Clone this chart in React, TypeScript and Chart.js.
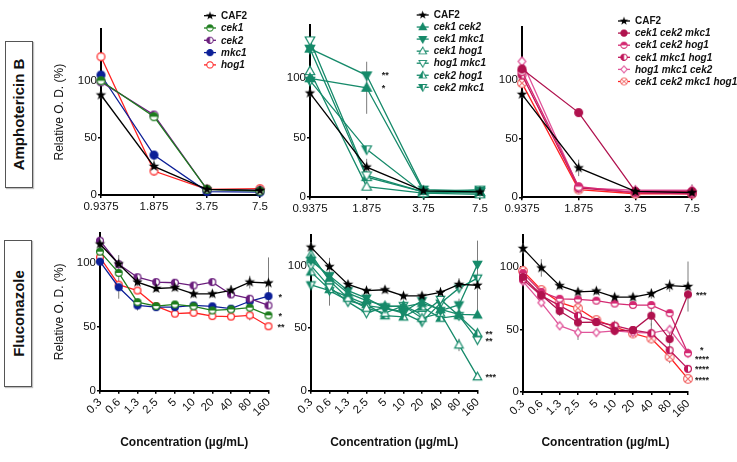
import React, { useEffect, useRef } from 'react';
import { Chart, registerables } from 'chart.js';
Chart.register(...registerables);

const FONT = '"Liberation Sans", Arial, Helvetica, sans-serif';

// ---------- categories / ticks ----------
const ampDoses = ['0.9375', '1.875', '3.75', '7.5'];
const fluDoses = ['0.3', '0.6', '1.3', '2.5', '5', '10', '20', '40', '80', '160'];
const yTicks = [0, 50, 100];

// ---------- Amphotericin B ----------
const ampCAF2 = [87.5, 25, 5, 4];
const ampCAF2Err = [3, 7, 2, 2];
const ampCek1 = [100, 68.5, 5, 3.5];
const ampCek2 = [99, 70, 5, 4];
const ampMkc1 = [105, 35, 3, 2.5];
const ampHog1 = [121, 21, 5, 5.5];
const ampHog1Err = [0, 4, 0, 0];

const ampCek1Cek2 = [100, 92, 5, 4];
const ampCek1Cek2Err = [0, 22, 0, 0];
const ampCek1Mkc1 = [125, 102.5, 6, 5];
const ampCek1Hog1 = [106, 8.5, 3, 2];
const ampHog1Mkc1 = [132, 18, 4, 6];
const ampCek2Hog1 = [125, 16.5, 4, 3];
const ampCek2Mkc1 = [98, 40, 3, 4];

const ampC1C2M1 = [109, 72, 5, 5];
const ampC1C2H1 = [107, 9, 4, 4];
const ampC1M1H1 = [104, 8, 4, 3];
const ampH1M1C2 = [115.5, 8, 6, 6];
const ampH1M1C2Err = [0, 0, 4, 5];
const ampQuad = [97, 6.6, 3, 3];

// ---------- Fluconazole ----------
const fluCAF2 = [114.8, 99.2, 85, 80, 80.7, 75.8, 75.8, 78.6, 85, 84.3];
const fluCAF2Err = [4, 7, 3, 3, 3, 3, 3, 4, 5, 20];
const fluCek1 = [108.8, 92.2, 69.3, 66.2, 67.5, 66, 62.8, 63.6, 65, 59];
const fluCek2 = [117.4, 99, 88.8, 85, 84.5, 82.3, 85, 75.3, 72, 66.7];
const fluMkc1 = [101, 81, 66.7, 65.4, 65.4, 66.7, 66, 64.2, 70, 74];
const fluMkc1Err = [0, 9, 4, 0, 0, 0, 0, 0, 3, 0];
const fluHog1 = [104.4, 83, 78.4, 66.2, 60.3, 61, 58.4, 58, 59, 50.4];
const fluHog1Err = [0, 0, 0, 0, 0, 0, 0, 0, 4, 0];

const fluCek1Cek2 = [106, 90, 78, 72, 68, 67, 70, 65, 61, 60.6];
const fluCek1Mkc1 = [104, 92, 80, 74, 66, 63, 72, 64, 68.6, 101];
const fluCek1Mkc1Err = [0, 0, 0, 0, 0, 0, 0, 0, 5, 0];
const fluCek1Hog1 = [109, 88, 74, 66, 62, 68, 58, 62, 36.6, 11.2];
const fluCek1Hog1Err = [0, 0, 0, 0, 0, 0, 5, 0, 5, 0];
const fluHog1Mkc1 = [100, 83, 71, 62, 67, 68, 61, 73, 60, 40.6];
const fluCek2Hog1 = [95, 81, 75, 69, 60, 59, 67, 58, 60, 46];
const fluCek2Mkc1 = [84.6, 80, 72, 68, 66, 62, 55, 70, 82, 90];
const fluCek2Mkc1Err = [0, 12, 0, 0, 0, 0, 0, 0, 0, 30];

const fluC1C2M1 = [92, 77.5, 64.7, 55.6, 55.9, 49, 49.5, 61, 42.3, 78];
const fluC1C2M1Err = [0, 0, 4, 0, 0, 0, 0, 8, 8, 0];
const fluC1C2H1 = [95, 80, 74.5, 74, 73, 70.7, 69.5, 69.5, 63, 31];
const fluC1M1H1 = [90, 77, 69, 61, 56, 53, 49.5, 47, 33.4, 18.5];
const fluC1M1H1Err = [0, 0, 0, 0, 0, 0, 0, 8, 0, 0];
const fluH1M1C2 = [88.4, 71.4, 53, 47.6, 47.6, 48.9, 47.6, 47, 50, 31];
const fluH1M1C2Err = [0, 0, 0, 6, 0, 0, 0, 0, 0, 0];
const fluQuad = [96.8, 81.5, 71.7, 66.9, 57.5, 52.1, 46.8, 42.8, 28, 10.5];
const fluQuadErr = [0, 0, 0, 0, 0, 5, 0, 0, 5, 0];

// ---------- styles ----------
const BLACK = '#000000';
const GREEN = '#1d7d1d';
const PURPLE = '#6a1d7c';
const NAVY = '#0c1f97';
const RED = '#ff2222';
const TEAL = '#168a6a';
const CRIMSON = '#b0124e';
const PINK = '#d42a72';
const MAGENTA = '#c0155a';
const ROSE = '#e0559a';
const SALMON = '#f26a6a';

type MK = 'star' | 'circle' | 'circleOpen' | 'circleTop' | 'circleLeft' | 'circleX' |
  'triUp' | 'triDown' | 'triUpOpen' | 'triDownOpen' | 'triUpHalf' | 'triDownHalf' | 'diamondOpen';

interface Series { label: string; data: number[]; err?: number[]; color: string; mk: MK; mkColor?: string; size?: number; }
interface Mark { s: number; i: number; text: string; dx: number; dy: number; }
interface Panel {
  cl: number; ct: number; cw: number; ch: number;
  left: number; right: number; top: number; bottom: number;
  yMax: number; labels: string[]; series: Series[];
  yTitle: boolean; xTitle: boolean; rot: number; size: number;
  legend?: { x: number; y: number; gap: number };
  marks: Mark[];
}

function makeMarker(kind: MK, color: string, size: number): HTMLCanvasElement {
  const s = Math.ceil(size) + 4;
  const c = document.createElement('canvas');
  c.width = s; c.height = s;
  const ctx = c.getContext('2d')!;
  const cx = s / 2, cy = s / 2, r = size / 2;
  ctx.lineWidth = 1.2;
  ctx.strokeStyle = color;
  ctx.fillStyle = color;
  const circ = () => { ctx.beginPath(); ctx.arc(cx, cy, r - 0.6, 0, Math.PI * 2); };
  const tri = (up: boolean) => {
    ctx.beginPath();
    if (up) { ctx.moveTo(cx, cy - r); ctx.lineTo(cx + r * 0.95, cy + r * 0.7); ctx.lineTo(cx - r * 0.95, cy + r * 0.7); }
    else { ctx.moveTo(cx, cy + r); ctx.lineTo(cx + r * 0.95, cy - r * 0.7); ctx.lineTo(cx - r * 0.95, cy - r * 0.7); }
    ctx.closePath();
  };
  const white = () => { ctx.fillStyle = '#fff'; ctx.fill(); ctx.fillStyle = color; };
  switch (kind) {
    case 'star': {
      ctx.beginPath();
      for (let k = 0; k < 10; k++) {
        const rr = k % 2 === 0 ? r : r * 0.42;
        const a = -Math.PI / 2 + (k * Math.PI) / 5;
        const px = cx + rr * Math.cos(a), py = cy + rr * Math.sin(a);
        if (k === 0) ctx.moveTo(px, py); else ctx.lineTo(px, py);
      }
      ctx.closePath(); ctx.fill();
      break;
    }
    case 'circle': circ(); ctx.fill(); ctx.stroke(); break;
    case 'circleOpen': circ(); white(); ctx.stroke(); break;
    case 'circleTop':
      circ(); white();
      ctx.beginPath(); ctx.arc(cx, cy, r - 0.6, Math.PI, Math.PI * 2); ctx.closePath(); ctx.fill();
      circ(); ctx.stroke(); break;
    case 'circleLeft':
      circ(); white();
      ctx.beginPath(); ctx.arc(cx, cy, r - 0.6, Math.PI / 2, Math.PI * 1.5); ctx.closePath(); ctx.fill();
      circ(); ctx.stroke(); break;
    case 'circleX': {
      circ(); white(); ctx.stroke();
      const d = (r - 0.6) * 0.707;
      ctx.beginPath(); ctx.moveTo(cx - d, cy - d); ctx.lineTo(cx + d, cy + d);
      ctx.moveTo(cx + d, cy - d); ctx.lineTo(cx - d, cy + d); ctx.stroke();
      break;
    }
    case 'triUp': tri(true); ctx.fill(); ctx.stroke(); break;
    case 'triDown': tri(false); ctx.fill(); ctx.stroke(); break;
    case 'triUpOpen': tri(true); white(); ctx.stroke(); break;
    case 'triDownOpen': tri(false); white(); ctx.stroke(); break;
    case 'triUpHalf':
    case 'triDownHalf': {
      const up = kind === 'triUpHalf';
      tri(up); white();
      ctx.save(); tri(up); ctx.clip(); ctx.fillRect(0, 0, cx, s); ctx.restore();
      tri(up); ctx.stroke();
      break;
    }
    case 'diamondOpen':
      ctx.beginPath(); ctx.moveTo(cx, cy - r); ctx.lineTo(cx + r * 0.85, cy); ctx.lineTo(cx, cy + r); ctx.lineTo(cx - r * 0.85, cy); ctx.closePath();
      white(); ctx.stroke(); break;
  }
  return c;
}

// ---------- series lists ----------
const ampSingles: Series[] = [
  { label: 'CAF2', data: ampCAF2, err: ampCAF2Err, color: BLACK, mk: 'star', size: 11 },
  { label: 'cek1', data: ampCek1, color: GREEN, mk: 'circleTop' },
  { label: 'cek2', data: ampCek2, color: PURPLE, mk: 'circleLeft' },
  { label: 'mkc1', data: ampMkc1, color: NAVY, mk: 'circle' },
  { label: 'hog1', data: ampHog1, err: ampHog1Err, color: RED, mk: 'circleOpen' },
];
const ampDoubles: Series[] = [
  { label: 'CAF2', data: ampCAF2, err: ampCAF2Err, color: BLACK, mk: 'star', size: 11 },
  { label: 'cek1 cek2', data: ampCek1Cek2, err: ampCek1Cek2Err, color: TEAL, mk: 'triUp' },
  { label: 'cek1 mkc1', data: ampCek1Mkc1, color: TEAL, mk: 'triDown' },
  { label: 'cek1 hog1', data: ampCek1Hog1, color: TEAL, mk: 'triUpOpen' },
  { label: 'hog1 mkc1', data: ampHog1Mkc1, color: TEAL, mk: 'triDownOpen' },
  { label: 'cek2 hog1', data: ampCek2Hog1, color: TEAL, mk: 'triUpHalf' },
  { label: 'cek2 mkc1', data: ampCek2Mkc1, color: TEAL, mk: 'triDownHalf' },
];
const ampTriples: Series[] = [
  { label: 'CAF2', data: ampCAF2, err: ampCAF2Err, color: BLACK, mk: 'star', size: 11 },
  { label: 'cek1 cek2 mkc1', data: ampC1C2M1, color: CRIMSON, mk: 'circle' },
  { label: 'cek1 cek2 hog1', data: ampC1C2H1, color: PINK, mk: 'circleTop' },
  { label: 'cek1 mkc1 hog1', data: ampC1M1H1, color: MAGENTA, mk: 'circleLeft' },
  { label: 'hog1 mkc1 cek2', data: ampH1M1C2, err: ampH1M1C2Err, color: ROSE, mk: 'diamondOpen' },
  { label: 'cek1 cek2 mkc1 hog1', data: ampQuad, color: RED, mk: 'circleX', mkColor: SALMON, size: 10 },
];
const fluSingles: Series[] = [
  { label: 'CAF2', data: fluCAF2, err: fluCAF2Err, color: BLACK, mk: 'star', size: 11 },
  { label: 'cek1', data: fluCek1, color: GREEN, mk: 'circleTop' },
  { label: 'cek2', data: fluCek2, color: PURPLE, mk: 'circleLeft' },
  { label: 'mkc1', data: fluMkc1, err: fluMkc1Err, color: NAVY, mk: 'circle' },
  { label: 'hog1', data: fluHog1, err: fluHog1Err, color: RED, mk: 'circleOpen' },
];
const fluDoubles: Series[] = [
  { label: 'CAF2', data: fluCAF2, err: fluCAF2Err, color: BLACK, mk: 'star', size: 11 },
  { label: 'cek1 cek2', data: fluCek1Cek2, color: TEAL, mk: 'triUp' },
  { label: 'cek1 mkc1', data: fluCek1Mkc1, err: fluCek1Mkc1Err, color: TEAL, mk: 'triDown' },
  { label: 'cek1 hog1', data: fluCek1Hog1, err: fluCek1Hog1Err, color: TEAL, mk: 'triUpOpen' },
  { label: 'hog1 mkc1', data: fluHog1Mkc1, color: TEAL, mk: 'triDownOpen' },
  { label: 'cek2 hog1', data: fluCek2Hog1, color: TEAL, mk: 'triUpHalf' },
  { label: 'cek2 mkc1', data: fluCek2Mkc1, err: fluCek2Mkc1Err, color: TEAL, mk: 'triDownHalf' },
];
const fluTriples: Series[] = [
  { label: 'CAF2', data: fluCAF2, err: fluCAF2Err, color: BLACK, mk: 'star', size: 11 },
  { label: 'cek1 cek2 mkc1', data: fluC1C2M1, err: fluC1C2M1Err, color: CRIMSON, mk: 'circle' },
  { label: 'cek1 cek2 hog1', data: fluC1C2H1, color: PINK, mk: 'circleTop' },
  { label: 'cek1 mkc1 hog1', data: fluC1M1H1, err: fluC1M1H1Err, color: MAGENTA, mk: 'circleLeft' },
  { label: 'hog1 mkc1 cek2', data: fluH1M1C2, err: fluH1M1C2Err, color: ROSE, mk: 'diamondOpen' },
  { label: 'cek1 cek2 mkc1 hog1', data: fluQuad, err: fluQuadErr, color: RED, mk: 'circleX', mkColor: SALMON, size: 10 },
];

const panels: Panel[] = [
  { cl: 40, ct: 0, cw: 260, ch: 225, left: 101, right: 260, top: 29.3, bottom: 195, yMax: 145,
    labels: ampDoses, series: ampSingles, yTitle: true, xTitle: false, rot: 0, size: 9,
    legend: { x: 210, y: 15.7, gap: 12.3 }, marks: [] },
  { cl: 283, ct: 0, cw: 217, ch: 225, left: 310, right: 480, top: 25, bottom: 196.7, yMax: 145,
    labels: ampDoses, series: ampDoubles, yTitle: false, xTitle: false, rot: 0, size: 10,
    legend: { x: 422.7, y: 15, gap: 12.05 },
    marks: [{ s: 2, i: 1, text: '**', dx: 15, dy: 0 }, { s: 1, i: 1, text: '*', dx: 15, dy: 1 }] },
  { cl: 495, ct: 0, cw: 242, ch: 225, left: 522, right: 692, top: 26.7, bottom: 197.3, yMax: 145,
    labels: ampDoses, series: ampTriples, yTitle: false, xTitle: false, rot: 0, size: 9,
    legend: { x: 624, y: 21, gap: 12.1 }, marks: [] },
  { cl: 40, ct: 225, cw: 255, ch: 237, left: 100, right: 268.5, top: 232.3, bottom: 390.7, yMax: 123.5,
    labels: fluDoses, series: fluSingles, yTitle: true, xTitle: true, rot: 45, size: 8,
    marks: [{ s: 3, i: 9, text: '*', dx: 10, dy: 1 }, { s: 1, i: 9, text: '*', dx: 10, dy: 1 }, { s: 4, i: 9, text: '**', dx: 9, dy: 1 }] },
  { cl: 283, ct: 225, cw: 217, ch: 237, left: 311, right: 477.5, top: 235, bottom: 390.7, yMax: 124.5,
    labels: fluDoses, series: fluDoubles, yTitle: false, xTitle: true, rot: 45, size: 9,
    marks: [{ s: 5, i: 9, text: '**', dx: 8, dy: 1 }, { s: 4, i: 9, text: '**', dx: 8, dy: 2 }, { s: 3, i: 9, text: '***', dx: 8, dy: 1 }] },
  { cl: 497, ct: 225, cw: 240, ch: 237, left: 523, right: 688, top: 235, bottom: 392, yMax: 125.5,
    labels: fluDoses, series: fluTriples, yTitle: false, xTitle: true, rot: 45, size: 8,
    marks: [{ s: 1, i: 9, text: '***', dx: 8, dy: 1 }, { s: 2, i: 9, text: '*', dx: 12, dy: -3 }, { s: 4, i: 9, text: '****', dx: 7, dy: 6 },
      { s: 3, i: 9, text: '****', dx: 7, dy: 1 }, { s: 5, i: 9, text: '****', dx: 7, dy: 2 }] },
];

function buildConfig(p: Panel): any {
  const markers = p.series.map((s) => makeMarker(s.mk, s.mkColor ?? s.color, s.size ?? p.size));
  const titleLH = 12 * 1.2;
  const padLeft = p.yTitle ? 60 - titleLH / 2 - p.cl : 0;
  const padBottom = p.xTitle ? p.ct + p.ch - (443 + titleLH / 2) : 0;
  const padTop = p.top - p.ct;
  const padRight = p.cl + p.cw - p.right;
  const yWidth = p.left - p.cl - padLeft;
  const xHeight = p.ct + p.ch - padBottom - p.bottom;

  const errPlugin = {
    id: 'errBars',
    beforeDatasetsDraw(chart: any) {
      const ctx = chart.ctx; const ys = chart.scales.y;
      ctx.save(); ctx.strokeStyle = '#7c7c7c'; ctx.lineWidth = 1;
      p.series.forEach((s, di) => {
        if (!s.err) return;
        const meta = chart.getDatasetMeta(di);
        s.err.forEach((e, i) => {
          if (!e) return;
          const x = meta.data[i].x; const v = s.data[i];
          ctx.beginPath(); ctx.moveTo(x, ys.getPixelForValue(v - e)); ctx.lineTo(x, ys.getPixelForValue(v + e)); ctx.stroke();
        });
      });
      ctx.restore();
    },
  };
  const markPlugin = {
    id: 'sigMarks',
    afterDatasetsDraw(chart: any) {
      const ctx = chart.ctx;
      ctx.save(); ctx.fillStyle = '#222'; ctx.font = `bold 9px ${FONT}`; ctx.textBaseline = 'middle'; ctx.textAlign = 'left';
      p.marks.forEach((m) => {
        const pt = chart.getDatasetMeta(m.s).data[m.i];
        ctx.fillText(m.text, pt.x + m.dx, pt.y + m.dy);
      });
      ctx.restore();
    },
  };
  const legendPlugin = {
    id: 'miniLegend',
    afterDraw(chart: any) {
      if (!p.legend) return;
      const ctx = chart.ctx;
      ctx.save();
      p.series.forEach((s, i) => {
        const x = p.legend!.x - p.cl; const y = p.legend!.y + i * p.legend!.gap - p.ct;
        ctx.strokeStyle = s.color; ctx.lineWidth = 1.3;
        ctx.beginPath(); ctx.moveTo(x - 6, y); ctx.lineTo(x + 6, y); ctx.stroke();
        const img = markers[i]; const w = img.width * 0.8;
        ctx.drawImage(img, x - w / 2, y - w / 2, w, w);
        ctx.fillStyle = '#111';
        ctx.font = `${s.label === 'CAF2' ? '' : 'italic '}bold 10px ${FONT}`;
        ctx.textBaseline = 'middle'; ctx.textAlign = 'left';
        ctx.fillText(s.label, x + 11, y + 0.5);
      });
      ctx.restore();
    },
  };

  const tickFont = { family: FONT, size: 11.5 };
  return {
    type: 'line',
    data: {
      labels: p.labels,
      datasets: p.series.map((s, i) => ({
        label: s.label, data: s.data,
        borderColor: s.color, backgroundColor: s.color, borderWidth: 1.3,
        pointStyle: markers[i], pointRadius: 4, pointHoverRadius: 4,
        tension: 0, clip: false, fill: false,
      })),
    },
    options: {
      animation: false, responsive: false, maintainAspectRatio: false, devicePixelRatio: 1,
      events: [],
      layout: { autoPadding: false, padding: { left: padLeft, right: padRight, top: padTop, bottom: padBottom } },
      plugins: { legend: { display: false }, tooltip: { enabled: false } },
      scales: {
        x: {
          type: 'category', offset: false,
          afterFit: (sc: any) => { sc.height = xHeight; },
          grid: { display: true, drawOnChartArea: false, drawTicks: true, tickLength: 3, color: '#000', lineWidth: 1.5 },
          border: { display: true, color: '#000', width: 2 },
          ticks: { color: '#111', font: tickFont, padding: 2, autoSkip: false, maxRotation: p.rot, minRotation: p.rot },
          title: { display: p.xTitle, text: 'Concentration (µg/mL)', color: '#111', font: { family: FONT, size: 12, weight: 'bold' }, padding: 0 },
        },
        y: {
          min: 0, max: p.yMax,
          afterFit: (sc: any) => { sc.width = yWidth; },
          afterBuildTicks: (sc: any) => { sc.ticks = yTicks.map((v) => ({ value: v })); },
          grid: { display: true, drawOnChartArea: false, drawTicks: true, tickLength: 3, color: '#000', lineWidth: 1.5 },
          border: { display: true, color: '#000', width: 2 },
          ticks: { color: '#111', font: tickFont, padding: 1 },
          title: { display: p.yTitle, text: 'Relative O. D. (%)', color: '#111', font: { family: FONT, size: 12 }, padding: 0 },
        },
      },
    },
    plugins: [errPlugin, markPlugin, legendPlugin],
  };
}

function PanelChart({ p }: { p: Panel }) {
  const ref = useRef<HTMLCanvasElement>(null);
  useEffect(() => {
    const chart = new Chart(ref.current!, buildConfig(p));
    return () => chart.destroy();
  }, [p]);
  return (
    <canvas ref={ref} width={p.cw} height={p.ch}
      style={{ position: 'absolute', left: p.cl, top: p.ct, width: p.cw, height: p.ch }} />
  );
}

function SideBox({ text, left, top, width, height }: { text: string; left: number; top: number; width: number; height: number }) {
  return (
    <div style={{
      position: 'absolute', left, top, width, height, boxSizing: 'border-box',
      border: '1.5px solid #555', display: 'flex', alignItems: 'center', justifyContent: 'center',
      background: '#fff', boxShadow: '1px 1px 1px rgba(0,0,0,0.25)',
    }}>
      <span style={{ transform: 'rotate(-90deg)', whiteSpace: 'nowrap', fontFamily: FONT, fontWeight: 'bold', fontSize: 15, color: '#111' }}>{text}</span>
    </div>
  );
}

export default function App() {
  useEffect(() => {
    document.body.style.margin = '0';
    document.body.style.background = '#fff';
  }, []);
  return (
    <div style={{ position: 'absolute', left: 0, top: 0, width: 737, height: 462, background: '#fff', overflow: 'hidden' }}>
      <SideBox text="Amphotericin B" left={5} top={41} width={28} height={147} />
      <SideBox text="Fluconazole" left={4} top={240} width={28} height={147} />
      {panels.map((p, i) => <PanelChart key={i} p={p} />)}
    </div>
  );
}
